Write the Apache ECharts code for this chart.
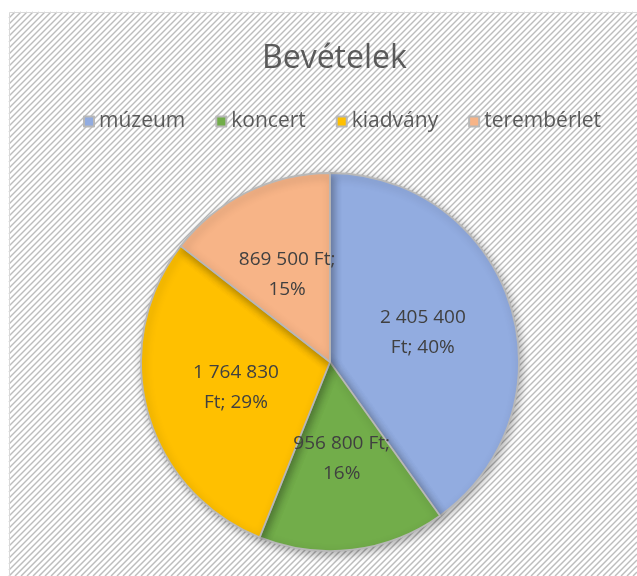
<!DOCTYPE html>
<html><head><meta charset="utf-8">
<script src="https://cdn.jsdelivr.net/npm/echarts@6/dist/echarts.min.js"></script>
<style>html,body{margin:0;padding:0;background:#fff}#c{width:637px;height:576px}</style>
</head><body><div id="c"></div>
<script>
const categories = ['múzeum', 'koncert', 'kiadvány', 'terembérlet'];
const values = [2405400, 956800, 1764830, 869500];
const colors = ['#92ACE0', '#72AD4A', '#FFC000', '#F7B487'];
const titleText = 'Bevételek';

// decorative diagonal hatch inside the chart frame
function hatchLines() {
  const x0 = 9, y0 = 12, x1 = 637, y1 = 576, step = 6;
  const out = [];
  for (let c = x0 + y0; c <= x1 + y1; c += step) {
    const xa = Math.max(x0, c - y1), xb = Math.min(x1, c - y0);
    if (xb <= xa) continue;
    out.push({
      type: 'line',
      shape: { x1: xa, y1: c - xa, x2: xb, y2: c - xb },
      style: { stroke: '#bdbdbd', lineWidth: 1.5 }
    });
  }
  return out;
}
function fmt(n) {
  return String(n).replace(/\B(?=(\d{3})+(?!\d))/g, ' ');
}
const mctx = document.createElement('canvas').getContext('2d');
mctx.font = '19px "Open Sans"';
function wrap(text, maxW) {
  const words = text.split(' ');
  const lines = [];
  let cur = '';
  for (const w of words) {
    const t = cur ? cur + ' ' + w : w;
    if (cur && mctx.measureText(t).width > maxW) { lines.push(cur); cur = w; }
    else cur = t;
  }
  if (cur) lines.push(cur);
  return lines.join('\n');
}
const chart = echarts.init(document.getElementById('c'));
chart.setOption({
  animation: false,
  backgroundColor: '#ffffff',
  color: colors,
  graphic: [
    { type: 'group', children: hatchLines() },
    { type: 'rect', shape: { x: 9.5, y: 12.5, width: 640, height: 580 }, style: { fill: 'transparent', stroke: '#d9d9d9', lineWidth: 1 } }
  ],
  title: {
    text: titleText, left: 257, top: 38, z: 6,
    textStyle: { fontFamily: 'Open Sans', fontSize: 32, fontWeight: 'normal', color: '#595959' }
  },
  legend: {
    data: categories, top: 106, left: 78, icon: 'rect', z: 6,
    itemWidth: 10, itemHeight: 10, itemGap: 30,
    textStyle: { fontFamily: 'Open Sans', fontSize: 21, color: '#595959' }
  },
  series: [{
    type: 'pie', z: 5, center: [330, 362], radius: [0, 189], startAngle: 90, clockwise: true,
    avoidLabelOverlap: false,
    data: categories.map((c, i) => ({ name: c, value: values[i] })),
    itemStyle: {
      borderColor: '#b8b8b8', borderWidth: 1.8,
      shadowBlur: 9, shadowColor: 'rgba(0,0,0,0.3)', shadowOffsetX: 2, shadowOffsetY: 3
    },
    label: {
      show: true, position: 'inner', fontFamily: 'Open Sans', fontSize: 19, color: '#404040',
      lineHeight: 30, align: 'center',
      formatter: p => wrap(fmt(p.value) + ' Ft; ' + Math.round(p.percent) + '%', 104)
    },
    labelLine: { show: false },
    labelLayout: { hideOverlap: false },
    emphasis: { disabled: true }
  }]
});
</script></body></html>
